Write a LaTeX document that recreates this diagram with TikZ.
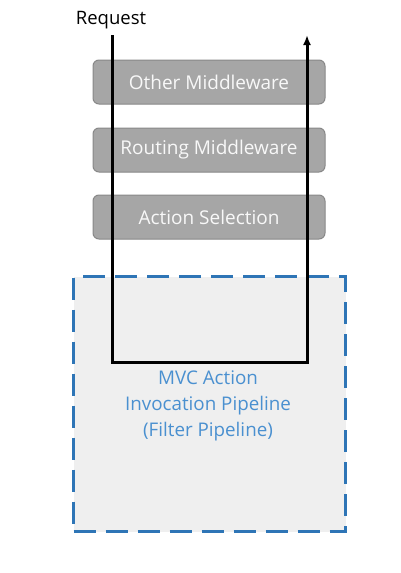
\documentclass[tikz,border=0pt]{standalone}
\usepackage{fontspec}
\setmainfont{Open Sans}
\usetikzlibrary{arrows.meta}
\definecolor{boxgray}{HTML}{A6A6A6}
\definecolor{boxedge}{HTML}{888888}
\definecolor{boxtext}{HTML}{F8F8F8}
\definecolor{dashblue}{HTML}{2E75B6}
\definecolor{textblue}{HTML}{4A90D0}
\definecolor{pipefill}{HTML}{EFEFEF}
\begin{document}
\begin{tikzpicture}[x=1pt,y=-1pt,
  mwbox/.style={draw=boxedge, line width=1pt, fill=boxgray, rounded corners=6pt,
    minimum width=232pt, minimum height=44pt, text=boxtext, font=\fontsize{19}{22}\selectfont},
  flow/.style={line width=3pt, black},
  pipe/.style={draw=dashblue, fill=pipefill, line width=3pt, dash pattern=on 22pt off 10pt},
  pipetext/.style={text=textblue, align=center, font=\fontsize{18.8}{26}\selectfont}]
\useasboundingbox[fill=white] (0,0) rectangle (400,573);
\node[pipe, minimum width=272pt, minimum height=255pt, anchor=north west, inner sep=0pt] (pipeline) at (72,275) {};
\node[pipetext] (pipelabel) at (208,406) {MVC Action\\Invocation Pipeline\\(Filter Pipeline)};
\node[mwbox] (other) at (209,82) {Other Middleware};
\node[mwbox] (routing) at (209,150) {Routing Middleware};
\node[mwbox] (select) at (209,217) {Action Selection};
\node[font=\fontsize{18.5}{21}\selectfont] (request) at (111,20) {Request};
\coordinate (inTop) at (112,35);
\coordinate (inBot) at (112,362);
\coordinate (outBot) at (307,362);
\coordinate (outTop) at (307,35);
\draw[flow, -{Latex[length=10pt,width=8pt]}] (inTop) -- (inBot) -- (outBot) -- (outTop);
\end{tikzpicture}
\end{document}
